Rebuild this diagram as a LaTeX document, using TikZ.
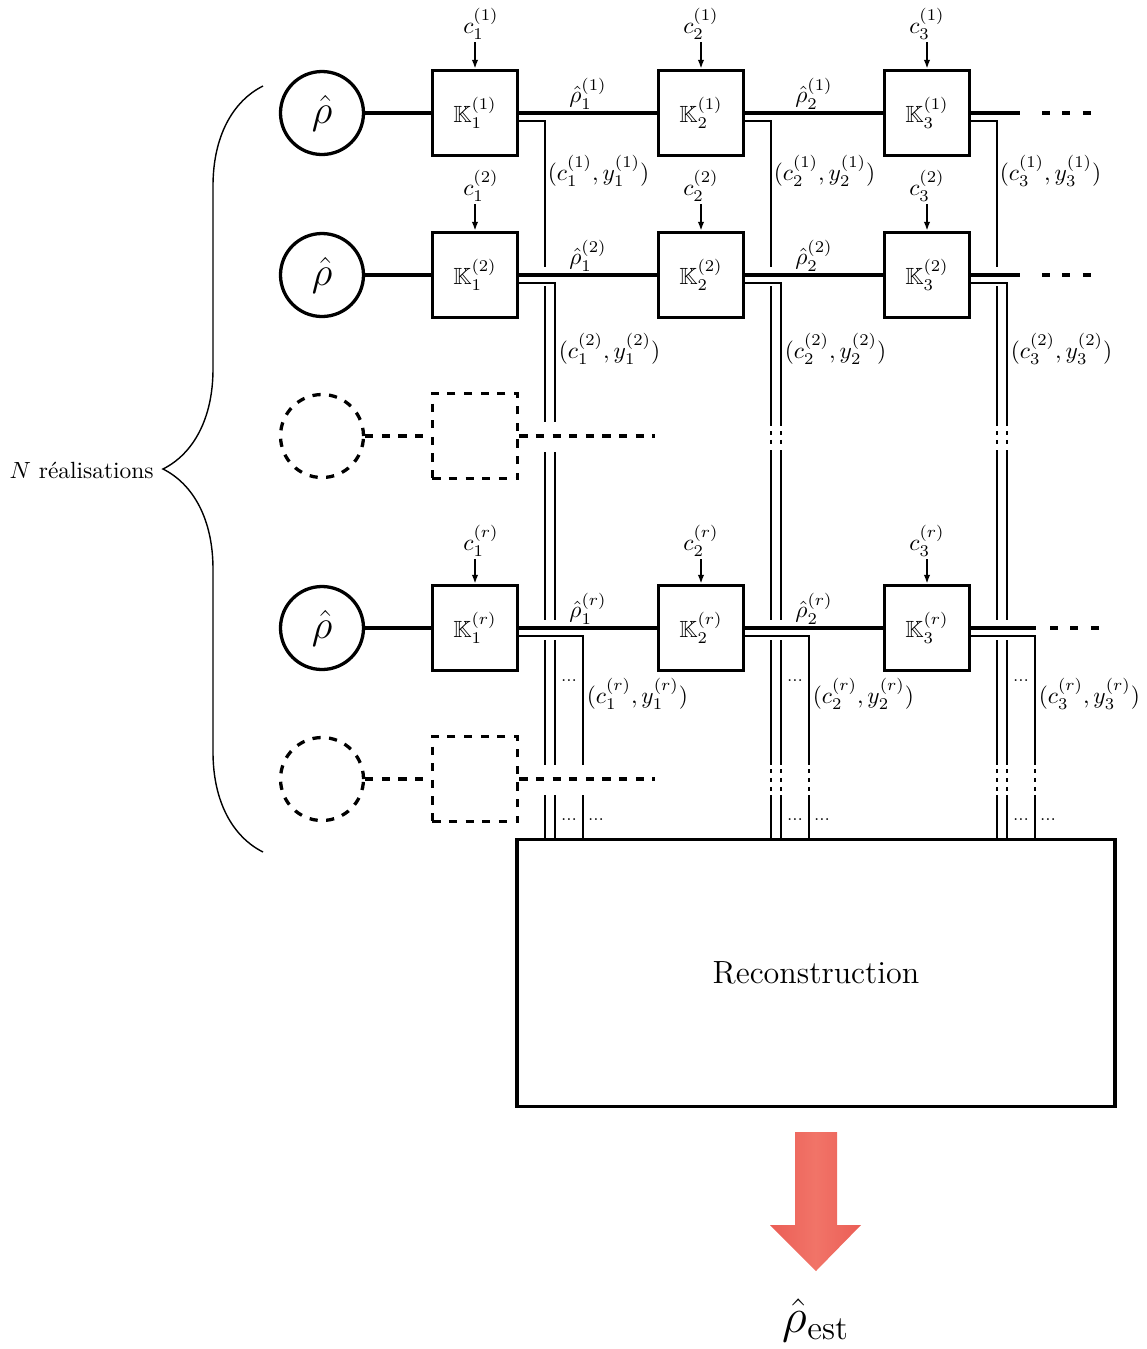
\documentclass[tikz,border=0pt]{standalone}
\usepackage{amssymb}
\usetikzlibrary{arrows.meta,calc,decorations.pathreplacing}
\definecolor{outredA}{RGB}{235,94,86}
\definecolor{outredB}{RGB}{241,116,104}
\begin{document}
\begin{tikzpicture}[x=0.015cm,y=-0.015cm,
  src/.style={circle,draw,line width=1.4pt,minimum size=1.245cm,inner sep=0pt,font=\LARGE},
  kbox/.style={rectangle,draw,line width=1.4pt,minimum size=1.28cm,inner sep=0pt},
  ghost/.style={dash pattern=on 3.5pt off 3.6pt},
  lab/.style={inner sep=1pt},
  qline/.style={line width=1.4pt},
  wire/.style={line width=1pt},
  feed/.style={line width=1pt,-{Latex[length=3.8pt,width=2.8pt]}},
  gapdots/.style={line width=1pt,dash pattern=on 1.7pt off 2.13pt},
  more/.style={font=\scriptsize,inner sep=0pt}]
\useasboundingbox (0,0) rectangle (1147,1349);
\node[src] (s1) at (322,113) {$\hat\rho$};
\node[src] (s2) at (322,275) {$\hat\rho$};
\node[src,ghost] (s3) at (322,436) {};
\node[src] (sr) at (322,628) {$\hat\rho$};
\node[src,ghost] (s5) at (322,779) {};
\node[kbox] (K11) at (475,113) {$\mathbb{K}_1^{(1)}$};
\node[kbox] (K12) at (701,113) {$\mathbb{K}_2^{(1)}$};
\node[kbox] (K13) at (927,113) {$\mathbb{K}_3^{(1)}$};
\node[kbox] (K21) at (475,275) {$\mathbb{K}_1^{(2)}$};
\node[kbox] (K22) at (701,275) {$\mathbb{K}_2^{(2)}$};
\node[kbox] (K23) at (927,275) {$\mathbb{K}_3^{(2)}$};
\node[kbox,ghost] (g3) at (475,436) {};
\node[kbox] (Kr1) at (475,628) {$\mathbb{K}_1^{(r)}$};
\node[kbox] (Kr2) at (701,628) {$\mathbb{K}_2^{(r)}$};
\node[kbox] (Kr3) at (927,628) {$\mathbb{K}_3^{(r)}$};
\node[kbox,ghost] (g5) at (475,779) {};
\node[lab] (c11) at (481,24) {$c_1^{(1)}$};
\node[lab] (c12) at (701,24) {$c_2^{(1)}$};
\node[lab] (c13) at (927,24) {$c_3^{(1)}$};
\node[lab] (c21) at (481,186) {$c_1^{(2)}$};
\node[lab] (c22) at (701,186) {$c_2^{(2)}$};
\node[lab] (c23) at (927,186) {$c_3^{(2)}$};
\node[lab] (cr1) at (481,541) {$c_1^{(r)}$};
\node[lab] (cr2) at (701,541) {$c_2^{(r)}$};
\node[lab] (cr3) at (927,541) {$c_3^{(r)}$};
\node[draw,line width=1.4pt,minimum width=8.97cm,minimum height=4cm,font=\fontsize{13.7}{16}\selectfont] (rec) at (816,973) {Reconstruction};
\node[font=\huge] (est) at (816,1320) {$\hat\rho_{\mathrm{est}}$};
\node[anchor=east] (nlab) at (162,470) {$N$ réalisations};
\foreach \n in {11,12,13,21,22,23,r1,r2,r3}
  \draw[feed] (K\n.north |- c\n.south) -- (K\n.north);
\draw[qline] (s1) -- (K11) (K11) -- node[lab,above] {$\hat\rho_1^{(1)}$} (K12) (K12) -- node[lab,above] {$\hat\rho_2^{(1)}$} (K13);
\draw[qline] (s2) -- (K21) (K21) -- node[lab,above] {$\hat\rho_1^{(2)}$} (K22) (K22) -- node[lab,above] {$\hat\rho_2^{(2)}$} (K23);
\draw[qline] (sr) -- (Kr1) (Kr1) -- node[lab,above] {$\hat\rho_1^{(r)}$} (Kr2) (Kr2) -- node[lab,above] {$\hat\rho_2^{(r)}$} (Kr3);
\draw[qline,ghost] (s3) -- (g3) (g3.east) -- (655,436);
\draw[qline,ghost] (s5) -- (g5) (g5.east) -- (655,779);
\draw[qline] (K13) -- (1020,113) (K23) -- (1020,275) (Kr3) -- (1036,628);
\draw[qline,dash pattern=on 3.4pt off 5.3pt] (1042,113) -- (1092,113) (1042,275) -- (1092,275) (1050,628) -- (1100,628);
\foreach \c/\xa/\xb/\xd/\ya/\yb in {1/545/555/583/422/452,2/771/781/809/426/450,3/997/1007/1035/426/450} {
  \draw[wire] ($(K1\c.east)+(0,8)$) -| (\xa,267);
  \draw[wire] (\xa,286) -- (\xa,\ya) (\xa,\yb) -- (\xa,620) (\xa,640) -- (\xa,765) (\xa,795) -- (\xa,0 |- rec.north);
  \draw[wire] ($(K2\c.east)+(0,8)$) -| (\xb,\ya);
  \draw[wire] (\xb,\yb) -- (\xb,620) (\xb,640) -- (\xb,765) (\xb,795) -- (\xb,0 |- rec.north);
  \draw[wire] ($(Kr\c.east)+(0,8)$) -| (\xd,765);
  \draw[wire] (\xd,795) -- (\xd,0 |- rec.north);
  \node[more] (m\c a) at ({(\xb+\xd)/2},681) {...};
  \node[more] (m\c b) at ({(\xb+\xd)/2},820) {...};
  \node[more] (m\c c) at (\xd+13,820) {...};
}
\foreach \x in {771,781,997,1007}
  \draw[gapdots] (\x,431) -- (\x,444);
\foreach \x in {771,781,809,997,1007,1035}
  \draw[gapdots] (\x,769) -- (\x,791);
\node[lab,anchor=west] (w11) at (545,171) {$(c_1^{(1)},y_1^{(1)})$};
\node[lab,anchor=west] (w12) at (771,171) {$(c_2^{(1)},y_2^{(1)})$};
\node[lab,anchor=west] (w13) at (997,171) {$(c_3^{(1)},y_3^{(1)})$};
\node[lab,anchor=west] (w21) at (556,349) {$(c_1^{(2)},y_1^{(2)})$};
\node[lab,anchor=west] (w22) at (782,349) {$(c_2^{(2)},y_2^{(2)})$};
\node[lab,anchor=west] (w23) at (1008,349) {$(c_3^{(2)},y_3^{(2)})$};
\node[lab,anchor=west] (wr1) at (584,694) {$(c_1^{(r)},y_1^{(r)})$};
\node[lab,anchor=west] (wr2) at (810,694) {$(c_2^{(r)},y_2^{(r)})$};
\node[lab,anchor=west] (wr3) at (1036,694) {$(c_3^{(r)},y_3^{(r)})$};
\draw[semithick,decorate,decoration={brace,amplitude=1.5cm}] (263,852) -- (263,86);
\shade[left color=outredA,right color=outredA,middle color=outredB] (795,1132) -- (837,1132) -- (837,1225) -- (861,1225) -- (816,1271) -- (770,1225) -- (795,1225) -- cycle;
\end{tikzpicture}
\end{document}
